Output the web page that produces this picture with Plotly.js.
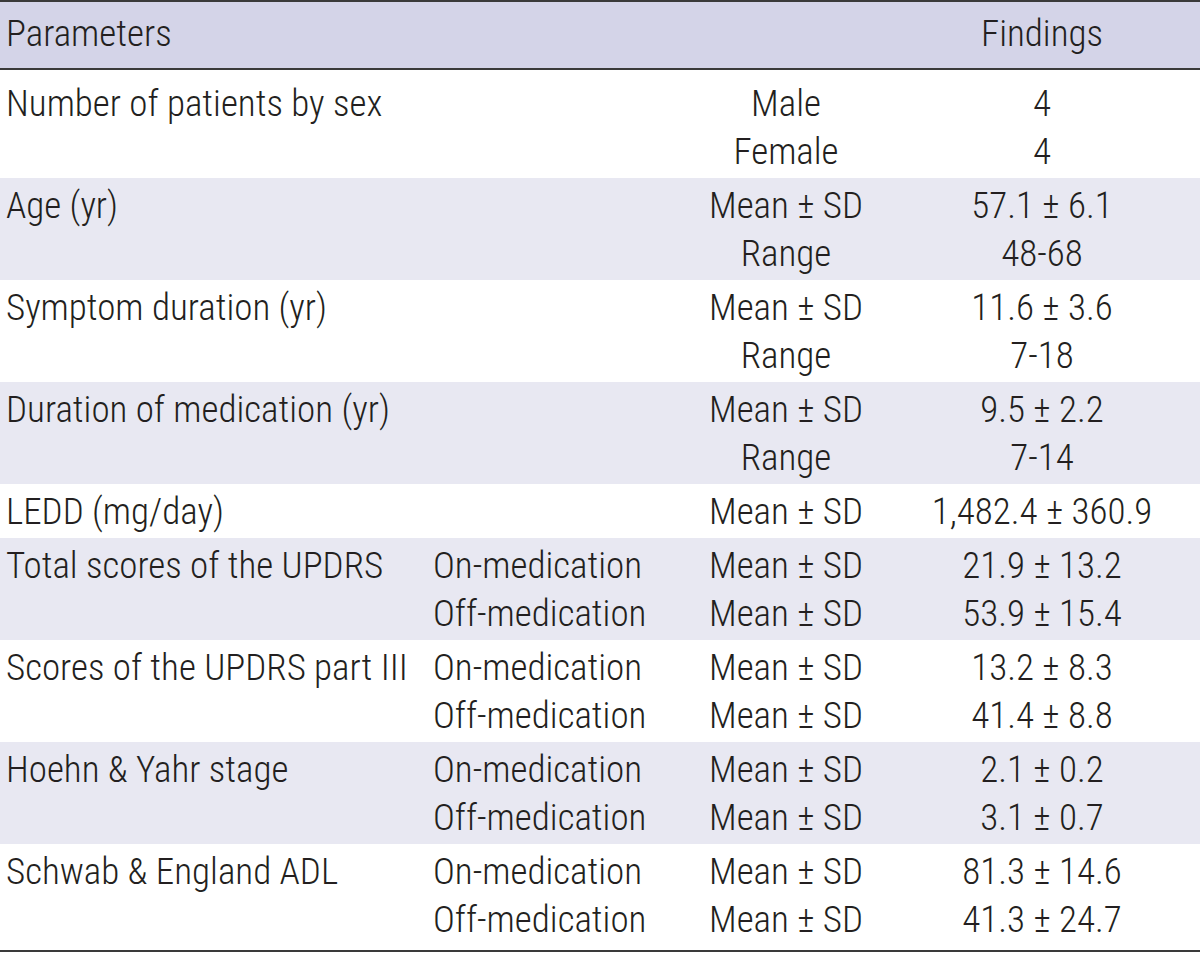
<!DOCTYPE html>
<html>
<head>
<meta charset="utf-8">
<script src="https://cdn.plot.ly/plotly-3.0.1.min.js"></script>
<style>html,body{margin:0;padding:0;background:#fff;}#chart{width:1200px;height:953px;}</style>
</head>
<body>
<div id="chart"></div>
<script>
// ---- Data ----
const headers = ["Parameters", "Findings"];
const parameters = [
  "Number of patients by sex",
  "Age (yr)",
  "Symptom duration (yr)",
  "Duration of medication (yr)",
  "LEDD (mg/day)",
  "Total scores of the UPDRS",
  "Scores of the UPDRS part III",
  "Hoehn & Yahr stage",
  "Schwab & England ADL"
];
const linesPerParameter = [2, 2, 2, 2, 1, 2, 2, 2, 2];
const conditions = [
  "", "",
  "", "",
  "", "",
  "", "",
  "",
  "On-medication", "Off-medication",
  "On-medication", "Off-medication",
  "On-medication", "Off-medication",
  "On-medication", "Off-medication"
];
const statistics = [
  "Male", "Female",
  "Mean ± SD", "Range",
  "Mean ± SD", "Range",
  "Mean ± SD", "Range",
  "Mean ± SD",
  "Mean ± SD", "Mean ± SD",
  "Mean ± SD", "Mean ± SD",
  "Mean ± SD", "Mean ± SD",
  "Mean ± SD", "Mean ± SD"
];
const findings = [
  "4", "4",
  "57.1 ± 6.1", "48-68",
  "11.6 ± 3.6", "7-18",
  "9.5 ± 2.2", "7-14",
  "1,482.4 ± 360.9",
  "21.9 ± 13.2", "53.9 ± 15.4",
  "13.2 ± 8.3", "41.4 ± 8.8",
  "2.1 ± 0.2", "3.1 ± 0.7",
  "81.3 ± 14.6", "41.3 ± 24.7"
];

// ---- Layout geometry (pixel space) ----
const W = 1200, H = 953;
const headerTop = 1, headerBottom = 69, headerCenter = 37;
const lineGap = 48, padTop = 31, padBottom = 23;
const firstExtraTop = 7, lastExtraBottom = 5;
const colX = {param: 6, cond: 433, stat: 786, find: 1042};
const FONT = "'Roboto Condensed', 'Liberation Sans Narrow', 'Arial Narrow', sans-serif";
const FS = 37;
const TXT = "#231f20";

const lineY = [];
const paramY = [];
const shapes = [];
let y = headerBottom;
parameters.forEach((p, i) => {
  const n = linesPerParameter[i];
  const top = y;
  const tp = padTop + (i === 0 ? firstExtraTop : 0);
  const bp = padBottom + (i === parameters.length - 1 ? lastExtraBottom : 0);
  const bottom = top + tp + (n - 1) * lineGap + bp;
  for (let k = 0; k < n; k++) lineY.push(top + tp + k * lineGap);
  paramY.push(top + tp);
  if (i % 2 === 1) {
    shapes.push({type: "rect", xref: "x", yref: "y", x0: 0, x1: W, y0: top, y1: bottom,
      fillcolor: "#e8e8f2", line: {width: 0}, layer: "below"});
  }
  y = bottom;
});
const tableBottom = y;

shapes.push({type: "rect", xref: "x", yref: "y", x0: 0, x1: W, y0: headerTop, y1: headerBottom,
  fillcolor: "#d4d4e8", line: {width: 0}, layer: "below"});
[headerTop, headerBottom, tableBottom].forEach(v => {
  shapes.push({type: "line", xref: "x", yref: "y", x0: 0, x1: W, y0: v, y1: v,
    line: {color: "#3a3a3a", width: 2}});
});

const font = {family: FONT, size: FS, color: TXT, weight: 300};
const traces = [
  {type: "scatter", mode: "text", x: [colX.param], y: [headerCenter], text: [headers[0]],
   textposition: "middle right", textfont: font, hoverinfo: "skip", showlegend: false},
  {type: "scatter", mode: "text", x: [colX.find], y: [headerCenter], text: [headers[1]],
   textposition: "middle center", textfont: font, hoverinfo: "skip", showlegend: false},
  {type: "scatter", mode: "text", x: parameters.map(() => colX.param), y: paramY, text: parameters,
   textposition: "middle right", textfont: font, hoverinfo: "skip", showlegend: false},
  {type: "scatter", mode: "text", x: conditions.map(() => colX.cond), y: lineY, text: conditions,
   textposition: "middle right", textfont: font, hoverinfo: "skip", showlegend: false},
  {type: "scatter", mode: "text", x: statistics.map(() => colX.stat), y: lineY, text: statistics,
   textposition: "middle center", textfont: font, hoverinfo: "skip", showlegend: false},
  {type: "scatter", mode: "text", x: findings.map(() => colX.find), y: lineY, text: findings,
   textposition: "middle center", textfont: font, hoverinfo: "skip", showlegend: false}
];

const layout = {
  width: W, height: H,
  margin: {l: 0, r: 0, t: 0, b: 0, pad: 0},
  paper_bgcolor: "#ffffff", plot_bgcolor: "#ffffff",
  xaxis: {range: [0, W], visible: false, fixedrange: true},
  yaxis: {range: [H, 0], visible: false, fixedrange: true},
  shapes: shapes,
  showlegend: false
};
Plotly.newPlot("chart", traces, layout, {staticPlot: true, displayModeBar: false});
</script>
</body>
</html>
